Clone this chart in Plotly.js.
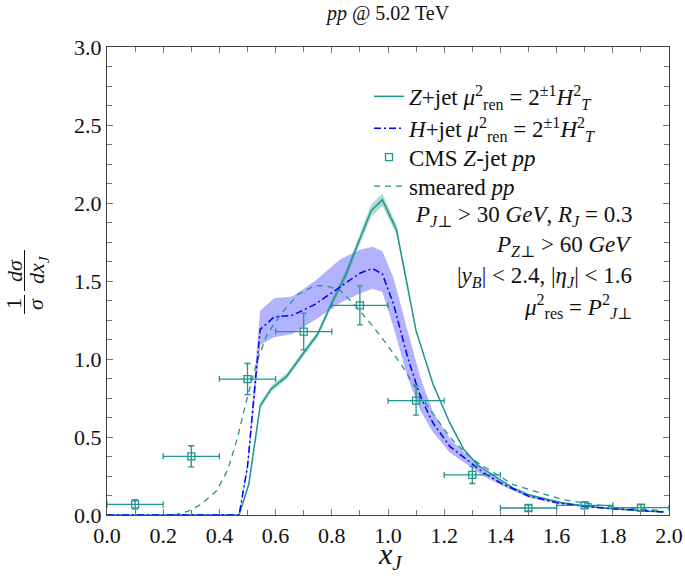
<!DOCTYPE html>
<html>
<head>
<meta charset="utf-8">
<script src="https://cdn.plot.ly/plotly-3.0.1.min.js"></script>
<style>html,body{margin:0;padding:0;background:#fff;}#plot{width:685px;height:585px;}</style>
</head>
<body>
<div id="plot"></div>
<script>
// ---- Z+jet (solid) ----
const zX = [0, 0.1, 0.2, 0.3, 0.4, 0.47, 0.505, 0.545, 0.585, 0.64, 0.70, 0.75, 0.80, 0.85, 0.88, 0.94, 0.98, 1.03, 1.07, 1.10, 1.16, 1.22, 1.27, 1.32, 1.40, 1.445, 1.50, 1.62, 1.70, 1.80, 1.90, 1.98];
const zY = [0, 0, 0, 0, 0, 0, 0.20, 0.70, 0.81, 0.89, 1.04, 1.16, 1.36, 1.54, 1.68, 1.95, 2.02, 1.83, 1.46, 1.18, 0.84, 0.59, 0.42, 0.32, 0.225, 0.174, 0.13, 0.078, 0.058, 0.040, 0.028, 0.020];
const zUp = [0, 0, 0, 0, 0, 0, 0.21, 0.72, 0.83, 0.91, 1.06, 1.18, 1.38, 1.57, 1.71, 1.99, 2.06, 1.86, 1.48, 1.19, 0.85, 0.60, 0.425, 0.325, 0.228, 0.176, 0.132, 0.079, 0.059, 0.041, 0.029, 0.021];
const zLo = [0, 0, 0, 0, 0, 0, 0.19, 0.68, 0.79, 0.87, 1.02, 1.14, 1.34, 1.51, 1.65, 1.91, 1.98, 1.80, 1.44, 1.17, 0.83, 0.58, 0.415, 0.315, 0.222, 0.172, 0.128, 0.077, 0.057, 0.039, 0.027, 0.019];

// ---- H+jet (dash-dot) ----
const hX = [0, 0.1, 0.2, 0.3, 0.4, 0.47, 0.50, 0.545, 0.595, 0.66, 0.74, 0.83, 0.90, 0.945, 0.98, 1.02, 1.07, 1.115, 1.16, 1.22, 1.28, 1.34, 1.40, 1.50, 1.60, 1.70, 1.80, 1.90, 1.98];
const hY = [0, 0, 0, 0, 0, 0, 0.31, 1.19, 1.27, 1.28, 1.35, 1.46, 1.55, 1.58, 1.545, 1.35, 1.01, 0.76, 0.59, 0.44, 0.355, 0.27, 0.206, 0.121, 0.079, 0.055, 0.040, 0.028, 0.020];
const hUp = [0, 0, 0, 0, 0, 0, 0.34, 1.31, 1.39, 1.40, 1.50, 1.64, 1.70, 1.72, 1.69, 1.52, 1.18, 0.885, 0.66, 0.49, 0.385, 0.29, 0.22, 0.13, 0.085, 0.059, 0.043, 0.030, 0.022];
const hLo = [0, 0, 0, 0, 0, 0, 0.28, 1.09, 1.14, 1.16, 1.25, 1.36, 1.42, 1.45, 1.43, 1.20, 0.88, 0.67, 0.53, 0.40, 0.325, 0.25, 0.192, 0.112, 0.073, 0.051, 0.037, 0.026, 0.018];

// ---- smeared pp (dashed) ----
const sX = [0.2, 0.25, 0.29, 0.335, 0.39, 0.43, 0.465, 0.50, 0.535, 0.57, 0.62, 0.68, 0.74, 0.78, 0.83, 0.88, 0.93, 0.985, 1.045, 1.10, 1.14, 1.16, 1.22, 1.28, 1.32, 1.445, 1.62, 1.80, 1.98];
const sY = [0, 0.005, 0.025, 0.068, 0.155, 0.29, 0.50, 0.76, 0.99, 1.16, 1.29, 1.415, 1.47, 1.47, 1.44, 1.35, 1.245, 1.12, 0.97, 0.81, 0.70, 0.65, 0.50, 0.39, 0.334, 0.195, 0.099, 0.050, 0.028];

// ---- CMS Z-jet pp data ----
const cmsX = [0.1, 0.3, 0.5, 0.7, 0.9, 1.1, 1.3, 1.5, 1.7, 1.9];
const cmsY = [0.068, 0.376, 0.871, 1.176, 1.344, 0.733, 0.257, 0.045, 0.062, 0.047];
const cmsErrY = [0.03, 0.068, 0.10, 0.118, 0.125, 0.093, 0.055, 0.02, 0.02, 0.02];
const cmsErrX = [0.1, 0.1, 0.1, 0.1, 0.1, 0.1, 0.1, 0.1, 0.1, 0.1];

// ---- tick labels ----
const xTicks = [0.0, 0.2, 0.4, 0.6, 0.8, 1.0, 1.2, 1.4, 1.6, 1.8, 2.0];
const yTicks = [0.0, 0.5, 1.0, 1.5, 2.0, 2.5, 3.0];

const TEAL = '#1f968d';
const BLUE = '#0000ff';
const FONT = 'Liberation Serif, DejaVu Serif, serif';

function band(x, lo, up, color) {
  return {
    x: x.concat(x.slice().reverse()),
    y: lo.concat(up.slice().reverse()),
    type: 'scatter', mode: 'lines', fill: 'toself',
    fillcolor: color, line: {width: 0}, hoverinfo: 'skip', showlegend: false
  };
}

const traces = [
  band(hX, hLo, hUp, 'rgba(0,0,255,0.30)'),
  band(zX, zLo, zUp, 'rgba(31,150,141,0.35)'),
  {x: sX, y: sY, type: 'scatter', mode: 'lines', name: 'smeared <i>pp</i>', legend: 'legend4',
   line: {color: TEAL, width: 1.3, dash: '6px,5px'}},
  {x: zX, y: zY, type: 'scatter', mode: 'lines', legend: 'legend',
   name: '<i>Z</i>+jet <i>μ</i><sup>2</sup><sub>ren</sub> = 2<sup>±1</sup><i>H</i><sup>2</sup><sub><i>T</i></sub>',
   line: {color: TEAL, width: 1.5}},
  {x: hX, y: hY, type: 'scatter', mode: 'lines', legend: 'legend2',
   name: '<i>H</i>+jet <i>μ</i><sup>2</sup><sub>ren</sub> = 2<sup>±1</sup><i>H</i><sup>2</sup><sub><i>T</i></sub>',
   line: {color: BLUE, width: 1.5, dash: '7px,3px,2px,3px'}},
  {x: cmsX, y: cmsY, type: 'scatter', mode: 'markers', legend: 'legend3',
   name: 'CMS <i>Z</i>-jet <i>pp</i>',
   marker: {symbol: 'square-open', size: 7, color: TEAL, line: {width: 1.3, color: TEAL}},
   error_y: {type: 'data', array: cmsErrY, color: TEAL, thickness: 1.3, width: 3},
   error_x: {type: 'data', array: cmsErrX, color: TEAL, thickness: 1.3, width: 3}}
];

const PX = (p) => (p - 107) / 562;
const PY = (p) => (515.5 - p) / 469;

const labFont = {family: FONT, size: 23, color: '#111'};
const notes = [
  {text: '<i>P</i><sub><i>J</i>⊥</sub> > 30 <i>GeV</i>, <i>R</i><sub><i>J</i></sub> = 0.3', y: 216},
  {text: '<i>P</i><sub><i>Z</i>⊥</sub> > 60 <i>GeV</i>', y: 246},
  {text: '|<i>y</i><sub><i>B</i></sub>| < 2.4, |<i>η</i><sub><i>J</i></sub>| < 1.6', y: 277},
  {text: '<i>μ</i><sup>2</sup><sub>res</sub> = <i>P</i><sup>2</sup><sub><i>J</i>⊥</sub>', y: 307}
];
const annotations = notes.map(n => ({
  text: n.text, xref: 'paper', yref: 'paper', x: PX(634), y: PY(n.y),
  xanchor: 'right', yanchor: 'middle', showarrow: false, font: labFont
}));
// y-axis label as fractions
const fracFont = {family: FONT, size: 22, color: '#111'};
[
  {t: '1', x: 14, y: 304},
  {t: '<i>σ</i>', x: 36, y: 304},
  {t: '<i>dσ</i>', x: 14, y: 271},
  {t: '<i>dx</i><sub><i>J</i></sub>', x: 38, y: 270}
].forEach(a => annotations.push({
  text: a.t, xref: 'paper', yref: 'paper', x: PX(a.x), y: PY(a.y),
  xanchor: 'center', yanchor: 'middle', textangle: -90, showarrow: false, font: fracFont
}));
// x-axis label
annotations.push({
  text: '<i>x</i><sub><i>J</i></sub>', xref: 'paper', yref: 'paper', x: PX(390), y: PY(557),
  xanchor: 'center', yanchor: 'middle', showarrow: false, font: {family: FONT, size: 30, color: '#111'}
});

const shapes = [
  {type: 'line', xref: 'paper', yref: 'paper', x0: PX(24.5), x1: PX(24.5), y0: PY(314), y1: PY(295), line: {color: '#111', width: 1}},
  {type: 'line', xref: 'paper', yref: 'paper', x0: PX(24.5), x1: PX(24.5), y0: PY(291), y1: PY(250), line: {color: '#111', width: 1}}
];

const axisCommon = {
  showgrid: false, zeroline: false, showline: true, linecolor: '#444', linewidth: 1.2,
  mirror: 'ticks', ticks: 'inside', ticklen: 6, tickcolor: '#777', tickwidth: 1,
  tickfont: {family: FONT, size: 22, color: '#111'}
};

function leg(rowY) {
  return {x: PX(369), y: PY(rowY), xanchor: 'left', yanchor: 'middle', bgcolor: 'rgba(0,0,0,0)',
          font: {family: FONT, size: 23, color: '#111'}};
}

const layout = {
  width: 685, height: 585,
  margin: {l: 107, r: 16, t: 46.5, b: 69.5},
  paper_bgcolor: '#fff', plot_bgcolor: '#fff',
  title: {text: '<i>pp</i> @ 5.02 TeV', font: {family: FONT, size: 20, color: '#111'},
          xref: 'paper', x: 0.5, xanchor: 'center', yref: 'container', y: 1 - 13 / 585, yanchor: 'middle'},
  xaxis: Object.assign({}, axisCommon, {
    range: [0, 2], tickmode: 'array', tickvals: xTicks, ticktext: xTicks.map(v => v.toFixed(1)),
    minor: {dtick: 0.1, ticks: 'inside', ticklen: 5, tickcolor: '#777', showgrid: false}
  }),
  yaxis: Object.assign({}, axisCommon, {
    range: [0, 3], tickmode: 'array', tickvals: yTicks, ticktext: yTicks.map(v => v.toFixed(1)),
    minor: {dtick: 0.125, ticks: 'inside', ticklen: 5, tickcolor: '#777', showgrid: false}
  }),
  showlegend: true,
  legend: leg(96),
  legend2: leg(128),
  legend3: leg(157),
  legend4: leg(186),
  annotations: annotations,
  shapes: shapes
};

Plotly.newPlot('plot', traces, layout, {staticPlot: true, displayModeBar: false});
</script>
</body>
</html>
